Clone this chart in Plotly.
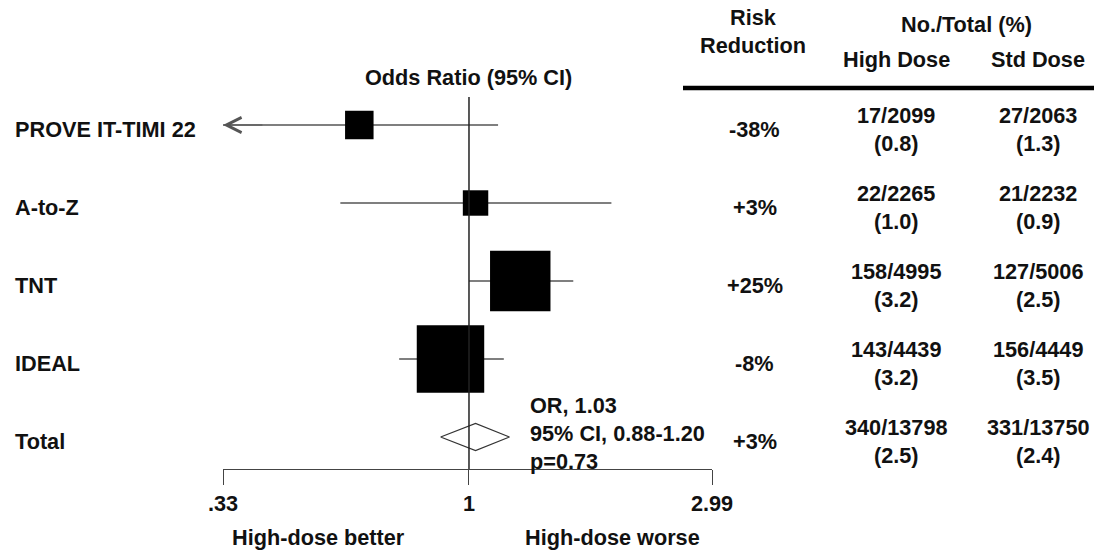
import numpy as np
import plotly.graph_objects as go

# ---------------- data ----------------
studies = ["PROVE IT-TIMI 22", "A-to-Z", "TNT", "IDEAL"]
odds_ratio = [0.61, 1.03, 1.26, 0.92]
ci_low = [0.33, 0.56, 1.00, 0.73]
ci_high = [1.14, 1.90, 1.60, 1.17]
ci_low_truncated = [True, False, False, False]
weight_pct = [8.4, 6.7, 37.8, 47.1]

total_label = "Total"
total_or = 1.03
total_low = 0.88
total_high = 1.20
total_p = 0.73

risk_reduction = ["-38%", "+3%", "+25%", "-8%", "+3%"]
high_events = [17, 22, 158, 143, 340]
high_total = [2099, 2265, 4995, 4439, 13798]
high_pct = [0.8, 1.0, 3.2, 3.2, 2.5]
std_events = [27, 21, 127, 156, 331]
std_total = [2063, 2232, 5006, 4449, 13750]
std_pct = [1.3, 0.9, 2.5, 3.5, 2.4]

axis_ticks = [0.33, 1, 2.99]
axis_ticktext = [".33", "1", "2.99"]

# ---------------- layout helpers ----------------
W, H = 1094, 550
def px(x):
    return x / W
def py(y):
    return 1 - y / H

FONT = dict(family="Liberation Sans, Arial, sans-serif", size=21.7, color="#111111", weight="bold")
LINE_COL = "#555555"
TEXT_SHIFT = -4

lg = np.log10
rows = list(range(len(studies)))
total_row = len(studies)
all_labels = studies + [total_label]

fig = go.Figure()

# CI lines
cx, cy = [], []
for i in rows:
    cx += [lg(ci_low[i]), lg(ci_high[i]), None]
    cy += [i, i, None]
fig.add_trace(go.Scatter(x=cx, y=cy, mode="lines",
                         line=dict(color=LINE_COL, width=1.3),
                         hoverinfo="skip", showlegend=False))

# squares (size from weight)
k = 9.83
fig.add_trace(go.Scatter(x=[lg(v) for v in odds_ratio], y=rows, mode="markers",
                         marker=dict(symbol="square", color="black", opacity=1,
                                     size=[k * np.sqrt(w) for w in weight_pct],
                                     line=dict(width=0)),
                         showlegend=False))

# diamond for total
h = 0.173
fig.add_trace(go.Scatter(
    x=[lg(total_low), lg(total_or), lg(total_high), lg(total_or), lg(total_low)],
    y=[total_row, total_row - h, total_row, total_row + h, total_row],
    mode="lines", line=dict(color="#333333", width=1.2),
    showlegend=False, hoverinfo="skip"))

# truncated-CI arrows
ann = []
for i in rows:
    if ci_low_truncated[i]:
        ann.append(dict(x=lg(ci_low[i]), y=i, xref="x", yref="y",
                        ax=lg(ci_low[i]) + 0.08, ay=i, axref="x", ayref="y",
                        text="", showarrow=True, arrowhead=5, arrowsize=2.5,
                        arrowwidth=1.2, arrowcolor=LINE_COL))

# row labels
for i, lab in enumerate(all_labels):
    ann.append(dict(x=px(13), y=i, xref="paper", yref="y", text=lab,
                    xanchor="left", yanchor="middle", showarrow=False,
                    font=FONT, yshift=TEXT_SHIFT))

# table values
for i in range(len(all_labels)):
    ann.append(dict(x=px(755), y=i, xref="paper", yref="y", text=risk_reduction[i],
                    xanchor="center", yanchor="middle", showarrow=False,
                    font=FONT, yshift=TEXT_SHIFT))
    ann.append(dict(x=px(896), y=i, xref="paper", yref="y",
                    text=f"{high_events[i]}/{high_total[i]}<br>({high_pct[i]:.1f})",
                    xanchor="center", yanchor="middle", showarrow=False,
                    font=FONT, yshift=TEXT_SHIFT))
    ann.append(dict(x=px(1038), y=i, xref="paper", yref="y",
                    text=f"{std_events[i]}/{std_total[i]}<br>({std_pct[i]:.1f})",
                    xanchor="center", yanchor="middle", showarrow=False,
                    font=FONT, yshift=TEXT_SHIFT))

# headers
def head(x, y, t, anchor="center"):
    ann.append(dict(x=px(x), y=py(y), xref="paper", yref="paper", text=t,
                    xanchor=anchor, yanchor="middle", showarrow=False, font=FONT))

head(753, 31, "Risk<br>Reduction")
head(966, 25, "No./Total (%)")
head(896, 59, "High Dose")
head(1038, 59, "Std Dose")
head(468, 77, "Odds Ratio (95% CI)")
head(318, 537, "High-dose better")
head(612, 537, "High-dose worse")

# total summary text
ann.append(dict(x=px(528), y=total_row, xref="paper", yref="y",
                text=f"OR, {total_or:.2f}<br>95% CI, {total_low:.2f}-{total_high:.2f}<br>p={total_p:.2f}",
                xanchor="left", yanchor="middle", align="left", showarrow=False,
                font=FONT, yshift=4))

shapes = [
    dict(type="line", xref="x", yref="y domain", x0=0, x1=0, y0=0, y1=1,
         line=dict(color="#222222", width=1.5)),
    dict(type="line", xref="paper", yref="paper", x0=px(683), x1=1, y0=py(88), y1=py(88),
         line=dict(color="black", width=4.5)),
]

ytop, ybot = 97, 469
spacing = 78
y_first = 125
r_top = -(y_first - ytop) / spacing
r_bot = (ybot - y_first) / spacing

fig.update_layout(
    width=W, height=H, autosize=False,
    margin=dict(l=0, r=0, t=0, b=0, pad=0, autoexpand=False),
    paper_bgcolor="white", plot_bgcolor="white",
    font=FONT, showlegend=False,
    annotations=ann, shapes=shapes,
    xaxis=dict(domain=[px(223), px(712)], range=[lg(0.33), lg(2.99)],
               tickvals=[lg(v) for v in axis_ticks], ticktext=axis_ticktext,
               showline=True, linecolor="#444444", linewidth=1.3,
               ticks="outside", ticklen=15, tickwidth=1.3, tickcolor="#444444",
               showgrid=False, zeroline=False, tickfont=FONT, fixedrange=True,
               automargin=False),
    yaxis=dict(domain=[py(ybot), py(ytop)], range=[r_bot, r_top],
               visible=False, showgrid=False, zeroline=False, fixedrange=True,
               automargin=False),
)

fig.write_html("out.html", config={"responsive": False, "displayModeBar": False})
